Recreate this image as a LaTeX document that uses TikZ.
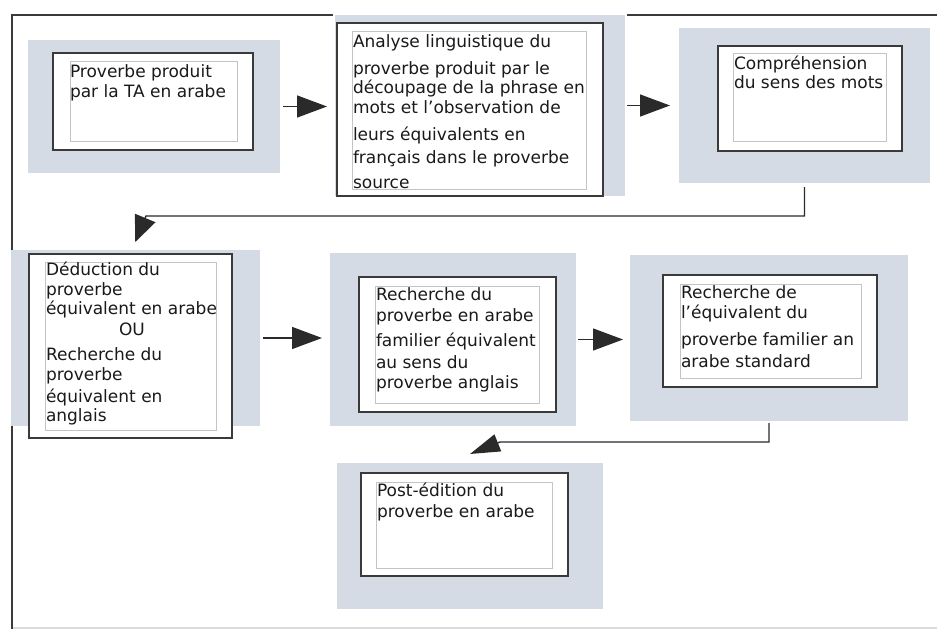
\documentclass[tikz,border=0pt]{standalone}
\usepackage{fontspec}
\setmainfont{DejaVu Sans}
\usetikzlibrary{arrows.meta}
\definecolor{gfill}{HTML}{D5DBE5}
\definecolor{frm}{HTML}{3A3A3A}
\definecolor{inl}{HTML}{C4C4C4}
\definecolor{lnc}{HTML}{2A2A2A}
\definecolor{txtc}{HTML}{1A1A1A}
\definecolor{faint}{HTML}{DADADA}
\newcommand\rbox[6]{\node[#6, anchor=north west, minimum width={#4-#2}, minimum height={#5-#3}] (#1) at (#2,#3) {};}
\begin{document}
\begin{tikzpicture}[x=1pt,y=-1pt,
  greybox/.style={fill=gfill, draw=none, inner sep=0pt, outer sep=0pt},
  framebox/.style={draw=frm, line width=2pt, fill=white, inner sep=0pt, outer sep=0pt},
  innerbox/.style={draw=inl, line width=0.9pt, inner sep=0pt, outer sep=0pt},
  txt/.style={inner sep=0pt, outer sep=0pt, align=left, font=\fontsize{17}{20}\selectfont, text=txtc, anchor=north west},
  arr/.style={draw=lnc, line width=1.4pt, -{Triangle[length=30pt,width=22pt]}},
  arrA/.style={draw=lnc, line width=1.4pt, -{Triangle[length=26pt,width=22pt]}},
  arrB/.style={draw=lnc, line width=1.4pt, -{Triangle[length=30pt,width=18pt]}},
  frameline/.style={draw=frm, line width=2.2pt},
  faintline/.style={draw=faint, line width=1.2pt}]
\useasboundingbox (0,0) rectangle (937,629);
% outer frame
\draw[faintline] (12,628) -- (937,628);
\draw[frameline] (12,629) -- (12,15) -- (333,15);
\draw[frameline] (627,15) -- (937,15);
% grey backgrounds
\rbox{g1}{28}{40}{280}{173}{greybox}
\rbox{g2}{335}{15}{625}{196}{greybox}
\rbox{g3}{679}{28}{930}{183}{greybox}
\rbox{g4}{10.5}{250}{260}{426}{greybox}
\rbox{g5}{330}{253}{576}{426}{greybox}
\rbox{g6}{630}{255}{908}{421}{greybox}
\rbox{g7}{337}{463}{603}{609}{greybox}
% black frames
\rbox{b1}{53}{53}{253}{150}{framebox}
\rbox{b2}{337}{23}{603}{196}{framebox}
\rbox{b3}{718}{46}{902}{151}{framebox}
\rbox{b4}{29}{254}{232}{438}{framebox}
\rbox{b5}{359}{277}{556}{412}{framebox}
\rbox{b6}{663}{275}{877}{387}{framebox}
\rbox{b7}{361}{473}{568}{576}{framebox}
% inner thin frames
\rbox{i1}{70}{61}{237}{141}{innerbox}
\rbox{i2}{352}{31}{586}{189}{innerbox}
\rbox{i3}{733}{53}{886}{141}{innerbox}
\rbox{i4}{45}{262}{216}{430}{innerbox}
\rbox{i5}{375}{286}{539}{403}{innerbox}
\rbox{i6}{680}{284}{861}{378}{innerbox}
\rbox{i7}{376}{482}{552}{568}{innerbox}
% texts
\node[txt] (t1) at (70,63) {\strut Proverbe produit\\par la TA en arabe};
\node[txt] (t2) at (353,33) {\strut Analyse linguistique du\\[7pt]proverbe produit par le\\[-1pt]découpage de la phrase en\\mots et l’observation de\\[7pt]leurs équivalents en\\[3pt]français dans le proverbe\\[5pt]source};
\node[txt] (t3) at (734,55) {\strut Compréhension\\[-1pt]du sens des mots};
\node[txt] (t4) at (46,261) {\strut Déduction du\\proverbe\\[-1pt]équivalent en arabe\\[1pt]\hspace*{73pt}OU\\[5pt]Recherche du\\proverbe\\[2pt]équivalent en\\[-1pt]anglais};
\node[txt] (t5) at (376,286) {\strut Recherche du\\[1pt]proverbe en arabe\\[5pt]familier équivalent\\[2pt]au sens du\\proverbe anglais};
\node[txt] (t6) at (681,284) {\strut Recherche de\\l’équivalent du\\[7pt]proverbe familier an\\[2pt]arabe standard};
\node[txt] (t7) at (377,482) {\strut Post-édition du\\[1pt]proverbe en arabe};
% connectors
\draw[arr, shorten <=3pt, shorten >=8pt] (g1.east) -- (g1.east -| g2.west);
\draw[arr, shorten <=2pt, shorten >=9pt] (g2.east |- g3.west) -- (g3.west);
\draw[arr, shorten <=3pt, shorten >=8pt] (g4.east) -- (g4.east -| g5.west);
\draw[arr, shorten <=2pt, shorten >=7pt] (g5.east) -- (g5.east -| g6.west);
\coordinate (k1) at (146,216);
\draw[arrA] ([yshift=-4pt]g3.south) |- (k1) -- ([yshift=8pt]g4.north);
\coordinate (k2) at (500,442);
\draw[arrB] ([yshift=-2pt]g6.south) |- (k2) -- ([yshift=9pt]g7.north);
\end{tikzpicture}
\end{document}
